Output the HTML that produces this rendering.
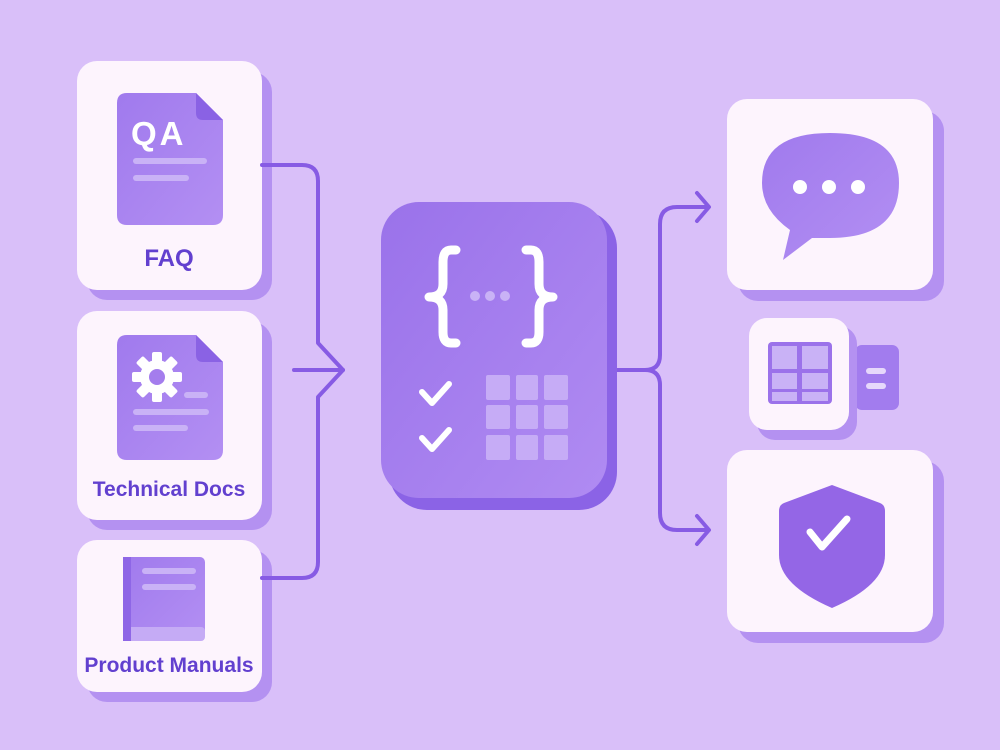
<!DOCTYPE html>
<html><head><meta charset="utf-8"><style>
html,body{margin:0;padding:0;background:#d9bff9;}
svg{display:block}
text{font-family:"Liberation Sans",sans-serif;font-weight:bold;fill:#6240cf}
</style></head><body>
<svg width="1000" height="750" viewBox="0 0 1000 750">
<defs>
<linearGradient id="g1" x1="0" y1="0" x2="1" y2="1"><stop offset="0" stop-color="#a07aed"/><stop offset="1" stop-color="#b38ff3"/></linearGradient>
<linearGradient id="g2" x1="0" y1="0" x2="1" y2="1"><stop offset="0" stop-color="#9a72ea"/><stop offset="1" stop-color="#b08bf2"/></linearGradient>
</defs>
<rect width="1000" height="750" fill="#d9bff9"/>
<rect x="87" y="72" width="185" height="228" rx="20" fill="#b491f1"/>
<rect x="77" y="61" width="185" height="229" rx="20" fill="#fdf4fd"/>
<rect x="87" y="322" width="185" height="208" rx="20" fill="#b491f1"/>
<rect x="77" y="311" width="185" height="209" rx="20" fill="#fdf4fd"/>
<rect x="87" y="550" width="185" height="152" rx="20" fill="#b491f1"/>
<rect x="77" y="540" width="185" height="152" rx="20" fill="#fdf4fd"/>
<path d="M127 93 H196 L223 120 V215 Q223 225 213 225 H127 Q117 225 117 215 V103 Q117 93 127 93Z" fill="url(#g1)"/>
<path d="M196 93 V113 Q196 120 203 120 H223Z" fill="#8a62e4"/>
<text x="131" y="145" font-size="33" letter-spacing="3" style="fill:#fff">QA</text>
<rect x="133" y="158" width="74" height="6" rx="3" fill="#c9b2f6"/>
<rect x="133" y="175" width="56" height="6" rx="3" fill="#c9b2f6"/>
<text x="169" y="266" font-size="24" text-anchor="middle">FAQ</text>
<path d="M127 335 H196 L223 362 V450 Q223 460 213 460 H127 Q117 460 117 450 V345 Q117 335 127 335Z" fill="url(#g1)"/>
<path d="M196 335 V355 Q196 362 203 362 H223Z" fill="#8a62e4"/>
<g transform="translate(157,377)" fill="#fff">
<circle r="17"/>
<g><rect x="-5" y="-25" width="10" height="12" rx="2"/><rect x="-5" y="13" width="10" height="12" rx="2"/><rect x="-25" y="-5" width="12" height="10" rx="2"/><rect x="13" y="-5" width="12" height="10" rx="2"/></g>
<g transform="rotate(45)"><rect x="-5" y="-25" width="10" height="12" rx="2"/><rect x="-5" y="13" width="10" height="12" rx="2"/><rect x="-25" y="-5" width="12" height="10" rx="2"/><rect x="13" y="-5" width="12" height="10" rx="2"/></g>
<circle r="8" fill="#a47ded"/>
</g>
<rect x="184" y="392" width="24" height="6" rx="3" fill="#c9b2f6"/>
<rect x="133" y="409" width="76" height="6" rx="3" fill="#c9b2f6"/>
<rect x="133" y="425" width="55" height="6" rx="3" fill="#c9b2f6"/>
<text x="169" y="496" font-size="21" text-anchor="middle">Technical Docs</text>
<rect x="123" y="557" width="82" height="82" rx="5" fill="url(#g1)"/>
<rect x="123" y="627" width="82" height="14" rx="4" fill="#c5abf5"/>
<rect x="123" y="557" width="8" height="84" fill="#8e66e6"/>
<rect x="142" y="568" width="54" height="6" rx="3" fill="#c9b2f6"/>
<rect x="142" y="584" width="54" height="6" rx="3" fill="#c9b2f6"/>
<text x="169" y="672" font-size="21" text-anchor="middle">Product Manuals</text>
<g fill="none" stroke="#875be4" stroke-width="4" stroke-linecap="round" stroke-linejoin="round">
<path d="M262 165 H302 Q318 165 318 181 V343 L343 370 L318 397 V562 Q318 578 302 578 H262"/>
<path d="M294 370 H343"/>
<path d="M612 370 H645 Q660 370 660 355 V224 Q660 207 677 207 H708"/>
<path d="M645 370 Q660 370 660 385 V513 Q660 530 677 530 H708"/>
<path d="M697 193 L709 207 L697 221"/>
<path d="M697 516 L709 530 L697 544"/>
</g>
<rect x="389" y="210" width="228" height="300" rx="38" fill="#8b63e6"/>
<rect x="381" y="202" width="226" height="296" rx="38" fill="url(#g2)"/>
<g fill="none" stroke="#fff" stroke-width="9" stroke-linecap="round" stroke-linejoin="round">
<path d="M456 250 H451 Q443 250 443 262 V284 Q443 297 429 297 Q443 297 443 310 V332 Q443 343 451 343 H456"/>
<path d="M526 250 H531 Q539 250 539 262 V284 Q539 297 553 297 Q539 297 539 310 V332 Q539 343 531 343 H526"/>
</g>
<g fill="none" stroke="#fff" stroke-width="6" stroke-linecap="round" stroke-linejoin="round">
<path d="M422 392 L432 403 L449 384"/>
<path d="M422 438 L432 449 L449 430"/>
</g>
<g fill="#c9b2f6"><circle cx="475" cy="296" r="5"/><circle cx="490" cy="296" r="5"/><circle cx="505" cy="296" r="5"/></g>
<g fill="#c6acf6">
<rect x="486" y="375" width="24" height="25" rx="2"/><rect x="516" y="375" width="22" height="25" rx="2"/><rect x="544" y="375" width="24" height="25" rx="2"/>
<rect x="486" y="405" width="24" height="24" rx="2"/><rect x="516" y="405" width="22" height="24" rx="2"/><rect x="544" y="405" width="24" height="24" rx="2"/>
<rect x="486" y="435" width="24" height="25" rx="2"/><rect x="516" y="435" width="22" height="25" rx="2"/><rect x="544" y="435" width="24" height="25" rx="2"/>
</g>
<rect x="738" y="111" width="206" height="190" rx="20" fill="#b491f1"/>
<rect x="727" y="99" width="206" height="191" rx="20" fill="#fdf4fd"/>
<path d="M790 230 Q762 210 762 183 Q762 133 830 133 Q899 133 899 183 Q899 238 830 238 H812 L783 260 Z" fill="url(#g1)"/>
<g fill="#fff"><circle cx="800" cy="187" r="7"/><circle cx="829" cy="187" r="7"/><circle cx="858" cy="187" r="7"/></g>
<rect x="855" y="345" width="44" height="65" rx="7" fill="#a27cee"/>
<rect x="866" y="368" width="20" height="6" rx="3" fill="#e6d8fb"/>
<rect x="866" y="383" width="20" height="6" rx="3" fill="#e6d8fb"/>
<rect x="757" y="326" width="100" height="114" rx="18" fill="#b491f1"/>
<rect x="749" y="318" width="100" height="112" rx="18" fill="#fdf4fd"/>
<rect x="768" y="342" width="64" height="62" rx="4" fill="#9b72ea"/>
<g fill="#c9b2f6"><rect x="772" y="346" width="25" height="23"/><rect x="802" y="346" width="26" height="23"/><rect x="772" y="373" width="25" height="16"/><rect x="802" y="373" width="26" height="16"/><rect x="772" y="392" width="25" height="9"/><rect x="802" y="392" width="26" height="9"/></g>
<rect x="738" y="461" width="206" height="182" rx="20" fill="#b491f1"/>
<rect x="727" y="450" width="206" height="182" rx="20" fill="#fdf4fd"/>
<path d="M832 485 L880 503 Q885 505 885 511 V555 Q885 585 832 608 Q779 585 779 555 V511 Q779 505 784 503 Z" fill="#9466e6"/>
<path d="M810 532 L822 547 L847 519" fill="none" stroke="#fff" stroke-width="7" stroke-linecap="round" stroke-linejoin="round"/>
</svg>
</body></html>
